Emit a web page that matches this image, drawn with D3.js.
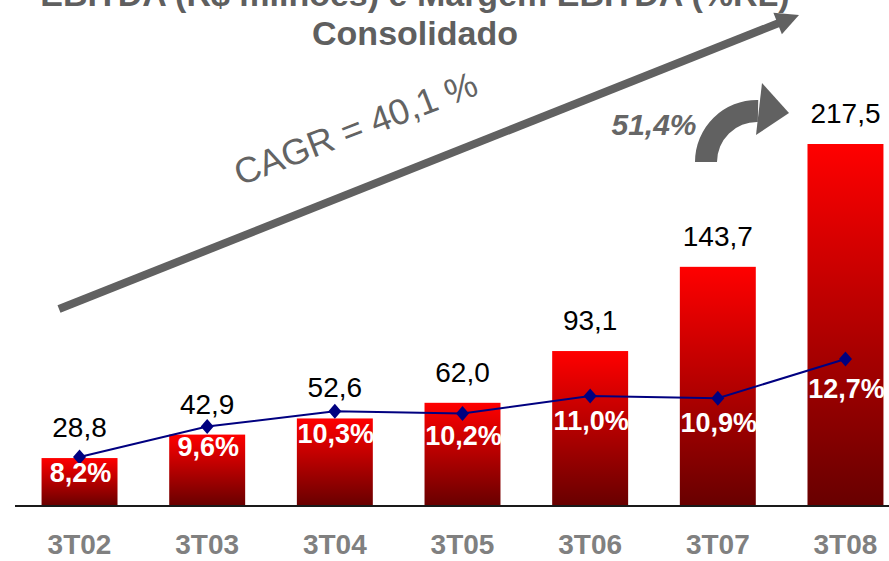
<!DOCTYPE html>
<html>
<head>
<meta charset="utf-8">
<script src="https://cdn.jsdelivr.net/npm/d3@7"></script>
<style>
  body { margin: 0; background: #fff; }
  svg { display: block; font-family: "Liberation Sans", Arial, sans-serif; }
</style>
</head>
<body>
<svg width="889" height="561"></svg>
<script>
const categories = ['3T02', '3T03', '3T04', '3T05', '3T06', '3T07', '3T08'];
const ebitda = [28.8, 42.9, 52.6, 62.0, 93.1, 143.7, 217.5];
const margin = [8.2, 9.6, 10.3, 10.2, 11.0, 10.9, 12.7];
const ebitdaLabels = ['28,8', '42,9', '52,6', '62,0', '93,1', '143,7', '217,5'];
const marginLabels = ['8,2%', '9,6%', '10,3%', '10,2%', '11,0%', '10,9%', '12,7%'];

const WIDTH = 889;
const HEIGHT = 561;
const BASE_Y = 506;

const svg = d3.select('svg').attr('width', WIDTH).attr('height', HEIGHT);

const x = d3.scaleBand()
  .domain(categories)
  .range([15.7, 909.3])
  .paddingInner(0.405)
  .paddingOuter(0.2025);

const y = d3.scaleLinear().domain([0, 217.5]).range([BASE_Y, 144]);
// margin line and margin labels sit on their own scales
const yPct = d3.scaleLinear().domain([0, 15]).range([635.6, 308.9]);
const yPctLabel = d3.scaleLinear().domain([0, 15]).range([635.1, 355]);

const defs = svg.append('defs');
const grad = defs.append('linearGradient')
  .attr('id', 'barGrad')
  .attr('x1', 0).attr('y1', 0).attr('x2', 0).attr('y2', 1);
grad.append('stop').attr('offset', '0%').attr('stop-color', '#ff0000');
grad.append('stop').attr('offset', '100%').attr('stop-color', '#680000');

const rows = categories.map((c, i) => ({
  cat: c, v: ebitda[i], m: margin[i], vl: ebitdaLabels[i], ml: marginLabels[i]
}));

// title (first line is cut by the top edge, as in the source slide)
svg.append('text')
  .attr('x', 415).attr('y', 6)
  .attr('text-anchor', 'middle')
  .attr('font-size', 34).attr('font-weight', 'bold')
  .attr('fill', '#5f5f5f')
  .text('EBITDA (R$ milhões) e Margem EBITDA (%RL)');
svg.append('text')
  .attr('x', 415).attr('y', 45)
  .attr('text-anchor', 'middle')
  .attr('font-size', 34).attr('font-weight', 'bold')
  .attr('fill', '#5f5f5f')
  .text('Consolidado');

// bars
svg.selectAll('rect.bar')
  .data(rows)
  .enter()
  .append('rect')
  .classed('bar', true)
  .attr('x', d => x(d.cat))
  .attr('y', d => y(d.v))
  .attr('width', x.bandwidth())
  .attr('height', d => BASE_Y - y(d.v))
  .attr('fill', 'url(#barGrad)');

// baseline
svg.append('line')
  .attr('x1', 15).attr('x2', WIDTH)
  .attr('y1', BASE_Y).attr('y2', BASE_Y)
  .attr('stroke', '#1a1a1a').attr('stroke-width', 2);

// value labels
svg.selectAll('text.val')
  .data(rows)
  .enter()
  .append('text')
  .classed('val', true)
  .attr('x', d => x(d.cat) + x.bandwidth() / 2)
  .attr('y', d => y(d.v) - 21)
  .attr('text-anchor', 'middle')
  .attr('font-size', 28)
  .attr('fill', '#000')
  .text(d => d.vl);

// category labels
svg.selectAll('text.cat')
  .data(rows)
  .enter()
  .append('text')
  .classed('cat', true)
  .attr('x', d => x(d.cat) + x.bandwidth() / 2)
  .attr('y', 554)
  .attr('text-anchor', 'middle')
  .attr('font-size', 28).attr('font-weight', 'bold')
  .attr('fill', '#808080')
  .text(d => d.cat);

// margin line
const line = d3.line()
  .x(d => x(d.cat) + x.bandwidth() / 2)
  .y(d => yPct(d.m));

svg.append('path')
  .datum(rows)
  .attr('d', line)
  .attr('fill', 'none')
  .attr('stroke', '#000080')
  .attr('stroke-width', 2);

svg.selectAll('path.mk')
  .data(rows)
  .enter()
  .append('path')
  .classed('mk', true)
  .attr('transform', d => `translate(${x(d.cat) + x.bandwidth() / 2},${yPct(d.m)})`)
  .attr('d', 'M0,-7.5L6.5,0L0,7.5L-6.5,0Z')
  .attr('fill', '#000080');

// margin labels
svg.selectAll('text.pct')
  .data(rows)
  .enter()
  .append('text')
  .classed('pct', true)
  .attr('x', d => x(d.cat) + x.bandwidth() / 2 + 1)
  .attr('y', d => yPctLabel(d.m))
  .attr('text-anchor', 'middle')
  .attr('font-size', 27).attr('font-weight', 'bold')
  .attr('fill', '#fff')
  .text(d => d.ml);

// CAGR arrow
const gray = '#616161';
const tail = [59, 309];
const tip = [799, 15];
const dx = tip[0] - tail[0], dy = tip[1] - tail[1];
const len = Math.hypot(dx, dy);
const ux = dx / len, uy = dy / len;
const nx = -uy, ny = ux;
const headLen = 23, headHalf = 11.5;
const bx = tip[0] - ux * headLen, by = tip[1] - uy * headLen;
svg.append('line')
  .attr('x1', tail[0]).attr('y1', tail[1])
  .attr('x2', bx + ux * 2).attr('y2', by + uy * 2)
  .attr('stroke', gray).attr('stroke-width', 8);
svg.append('path')
  .attr('d', `M${tip[0]},${tip[1]}L${bx + nx * headHalf},${by + ny * headHalf}L${bx - nx * headHalf},${by - ny * headHalf}Z`)
  .attr('fill', gray);

svg.append('text')
  .attr('transform', 'translate(360,140) rotate(-21)')
  .attr('text-anchor', 'middle')
  .attr('font-size', 36)
  .attr('fill', '#636363')
  .text('CAGR = 40,1 %');

// curved growth arrow
const arc = d3.arc()
  .innerRadius(40).outerRadius(62)
  .startAngle(-Math.PI / 2).endAngle(0.02);
svg.append('path')
  .attr('transform', 'translate(757,162)')
  .attr('d', arc())
  .attr('fill', gray);
svg.append('path')
  .attr('d', 'M762,83L789,113L756,135Z')
  .attr('fill', gray);

svg.append('text')
  .attr('x', 654).attr('y', 135)
  .attr('text-anchor', 'middle')
  .attr('font-size', 30).attr('font-weight', 'bold').attr('font-style', 'italic')
  .attr('fill', '#666')
  .text('51,4%');
</script>
</body>
</html>
